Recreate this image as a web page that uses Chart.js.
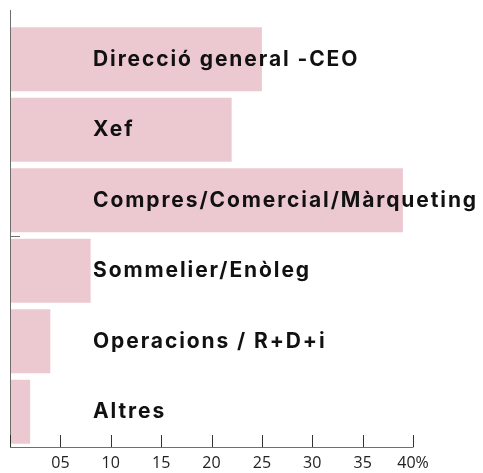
<!DOCTYPE html>
<html>
<head>
<meta charset="utf-8">
<script src="https://cdn.jsdelivr.net/npm/chart.js@4/dist/chart.umd.min.js"></script>
<style>
  html, body { margin: 0; padding: 0; background: #fff; }
  #wrap { width: 483px; height: 473px; position: relative; }
</style>
</head>
<body>
<div id="wrap"><canvas id="chart"></canvas></div>
<script>
// dades llegides del gràfic
const categories = ['Direcció general -CEO', 'Xef', 'Compres/Comercial/Màrqueting', 'Sommelier/Enòleg', 'Operacions / R+D+i', 'Altres'];
const values = [25, 22, 39, 8, 4, 2];
const xTickValues = [5, 10, 15, 20, 25, 30, 35, 40];
const xTickLabels = ['05', '10', '15', '20', '25', '30', '35', '40%'];

const PINK = '#ecc8d0';
const AXIS = '#6e6e6e';

// eix Y allargat cap amunt + marques de l'eix X cap amunt + marca petita a l'eix Y
const axisDeco = {
  id: 'axisDeco',
  afterDatasetsDraw(chart) {
    const { ctx, chartArea, scales } = chart;
    const x = scales.x, y = scales.y;
    ctx.save();
    ctx.strokeStyle = AXIS;
    ctx.lineWidth = 1;
    // eix vertical
    ctx.beginPath();
    ctx.moveTo(chartArea.left + 0.5, 10);
    ctx.lineTo(chartArea.left + 0.5, chartArea.bottom);
    ctx.stroke();
    // eix horitzontal
    const xEnd = x.getPixelForValue(40);
    ctx.beginPath();
    ctx.moveTo(chartArea.left, chartArea.bottom + 0.5);
    ctx.lineTo(xEnd + 0.5, chartArea.bottom + 0.5);
    ctx.stroke();
    // marques de l'eix X
    ctx.strokeStyle = '#333';
    [0, ...xTickValues].forEach(v => {
      const px = Math.round(x.getPixelForValue(v)) + 0.5;
      ctx.beginPath();
      ctx.moveTo(px, chartArea.bottom);
      ctx.lineTo(px, chartArea.bottom - 12);
      ctx.stroke();
    });
    // marca petita entre Compres i Sommelier
    const yb = Math.round((y.getPixelForTick(2) + y.getPixelForTick(3)) / 2) + 0.5;
    ctx.strokeStyle = AXIS;
    ctx.beginPath();
    ctx.moveTo(chartArea.left, yb);
    ctx.lineTo(chartArea.left + 10, yb);
    ctx.stroke();
    ctx.restore();
    // les etiquetes de l'eix Y (z:1) es dibuixen després: més espaiades
    ctx.letterSpacing = '1.9px';
  },
  afterDraw(chart) {
    chart.ctx.letterSpacing = '0px';
  }
};

new Chart(document.getElementById('chart'), {
  type: 'bar',
  data: {
    labels: categories,
    datasets: [{
      data: values,
      backgroundColor: PINK,
      borderWidth: 0,
      categoryPercentage: 1,
      barPercentage: 0.91
    }]
  },
  options: {
    indexAxis: 'y',
    responsive: true,
    maintainAspectRatio: false,
    animation: false,
    layout: { padding: { top: 24, left: 10, right: 70, bottom: 0 } },
    plugins: { legend: { display: false }, tooltip: { enabled: false } },
    scales: {
      x: {
        min: 0,
        max: 40,
        afterBuildTicks(scale) { scale.ticks = xTickValues.map(v => ({ value: v })); },
        afterFit(scale) { scale.height = 26; },
        grid: { display: false, drawTicks: false },
        border: { display: false },
        ticks: {
          color: '#222',
          font: { family: 'Open Sans', size: 16 },
          padding: 7,
          maxRotation: 0,
          callback: (v) => xTickLabels[xTickValues.indexOf(v)]
        }
      },
      y: {
        grid: { display: false, drawTicks: false },
        border: { display: false },
        // les etiquetes van dins l'àrea del gràfic, l'eix no ocupa espai
        afterFit(scale) {
          scale.width = 0;
          scale.paddingTop = 0;
          scale.paddingBottom = 0;
        },
        ticks: {
          mirror: true,
          z: 1,
          padding: 83,
          color: '#111',
          font: { family: 'Inter', size: 21, weight: 'bold' }
        }
      }
    }
  },
  plugins: [axisDeco]
});
</script>
</body>
</html>
